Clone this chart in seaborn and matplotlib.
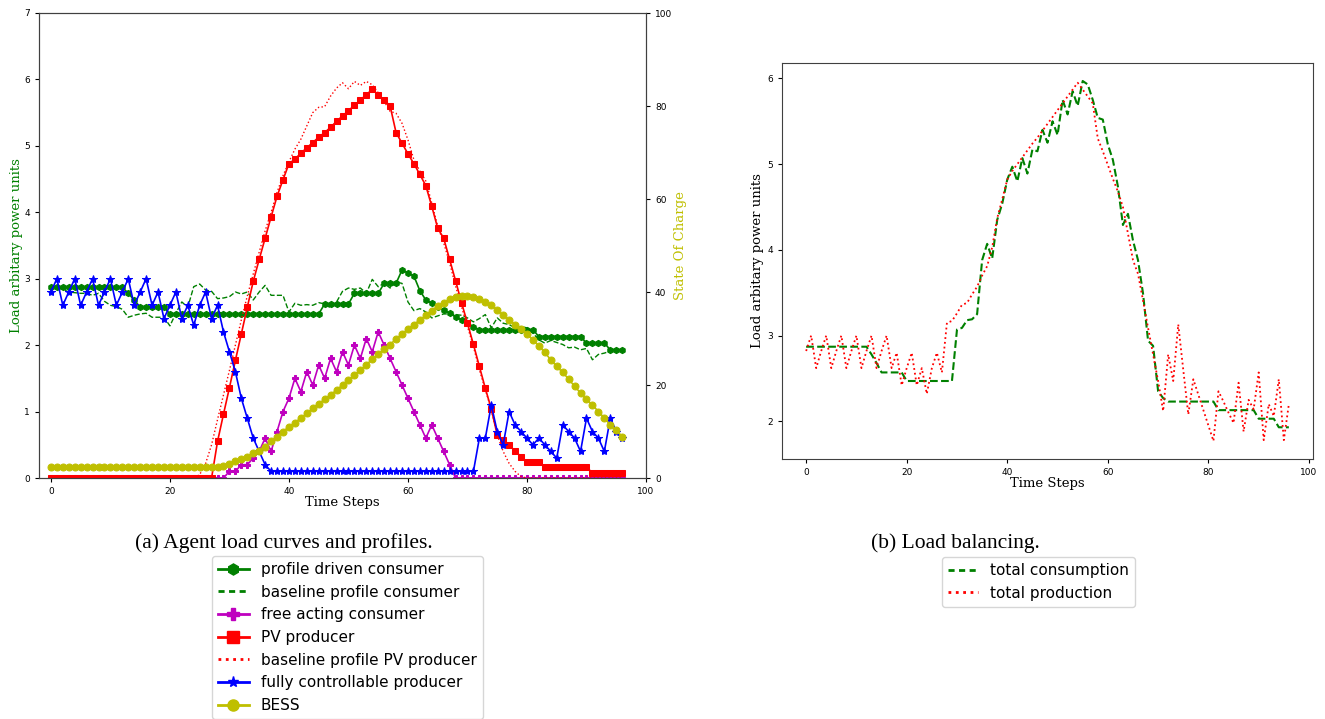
import matplotlib
matplotlib.use("Agg")
import matplotlib.pyplot as plt
from matplotlib.lines import Line2D
import seaborn as sns

steps = list(range(97))

# (a) agent load curves, left axis in arbitrary power units
profile_driven = [
    2.87, 2.87, 2.87, 2.87, 2.87, 2.87, 2.87, 2.87, 2.87, 2.87,
    2.87, 2.87, 2.87, 2.78, 2.68, 2.57, 2.57, 2.57, 2.57, 2.57,
    2.47, 2.47, 2.47, 2.47, 2.47, 2.47, 2.47, 2.47, 2.47, 2.47,
    2.47, 2.47, 2.47, 2.47, 2.47, 2.47, 2.47, 2.47, 2.47, 2.47,
    2.47, 2.47, 2.47, 2.47, 2.47, 2.47, 2.62, 2.62, 2.62, 2.62,
    2.62, 2.78, 2.78, 2.78, 2.78, 2.78, 2.93, 2.93, 2.93, 3.13,
    3.09, 3.04, 2.82, 2.68, 2.63, 2.58, 2.53, 2.48, 2.43, 2.38,
    2.33, 2.28, 2.23, 2.23, 2.23, 2.23, 2.23, 2.23, 2.23, 2.23,
    2.23, 2.23, 2.13, 2.13, 2.13, 2.13, 2.13, 2.13, 2.13, 2.13,
    2.03, 2.03, 2.03, 2.03, 1.93, 1.93, 1.93]

baseline_consumer = [
    2.88, 2.87, 2.84, 2.80, 2.79, 2.78, 2.78, 2.75, 2.78, 2.66,
    2.60, 2.58, 2.54, 2.42, 2.45, 2.47, 2.48, 2.42, 2.42, 2.42,
    2.29, 2.48, 2.65, 2.57, 2.88, 2.92, 2.83, 2.81, 2.70, 2.71,
    2.73, 2.80, 2.77, 2.80, 2.68, 2.80, 2.90, 2.75, 2.75, 2.75,
    2.50, 2.63, 2.60, 2.61, 2.60, 2.64, 2.62, 2.56, 2.65, 2.81,
    2.86, 2.84, 2.86, 2.78, 2.99, 2.88, 2.93, 2.86, 2.95, 2.93,
    2.65, 2.52, 2.55, 2.50, 2.41, 2.44, 2.47, 2.47, 2.46, 2.45,
    2.41, 2.35, 2.40, 2.46, 2.26, 2.41, 2.33, 2.31, 2.26, 2.28,
    2.26, 2.18, 2.08, 2.03, 2.07, 2.04, 2.01, 1.96, 1.97, 1.93,
    1.95, 1.78, 1.86, 1.88, 1.91, 1.92, 1.93]

free_acting = [
    0, 0, 0, 0, 0, 0, 0, 0, 0, 0,
    0, 0, 0, 0, 0, 0, 0, 0, 0, 0,
    0, 0, 0, 0, 0, 0, 0, 0, 0, 0,
    0.1, 0.1, 0.2, 0.2, 0.3, 0.4, 0.6, 0.4, 0.7, 1.0,
    1.2, 1.5, 1.3, 1.6, 1.4, 1.7, 1.5, 1.8, 1.6, 1.9,
    1.7, 2.0, 1.8, 2.1, 1.9, 2.2, 2.0, 1.8, 1.6, 1.4,
    1.2, 1.0, 0.8, 0.6, 0.8, 0.6, 0.4, 0.2, 0, 0,
    0, 0, 0, 0, 0, 0, 0, 0, 0, 0,
    0, 0, 0, 0, 0, 0, 0, 0, 0, 0,
    0, 0, 0, 0, 0, 0, 0]

pv_producer = [
    0, 0, 0, 0, 0, 0, 0, 0, 0, 0,
    0, 0, 0, 0, 0, 0, 0, 0, 0, 0,
    0, 0, 0, 0, 0, 0, 0, 0, 0.55, 0.96,
    1.36, 1.77, 2.17, 2.57, 2.96, 3.29, 3.61, 3.93, 4.24, 4.49,
    4.73, 4.80, 4.89, 4.97, 5.05, 5.13, 5.20, 5.28, 5.37, 5.45,
    5.53, 5.61, 5.69, 5.77, 5.85, 5.77, 5.69, 5.60, 5.20, 5.04,
    4.88, 4.73, 4.57, 4.40, 4.09, 3.76, 3.61, 3.29, 2.97, 2.64,
    2.33, 2.01, 1.68, 1.35, 1.04, 0.65, 0.57, 0.49, 0.41, 0.32,
    0.24, 0.24, 0.24, 0.16, 0.16, 0.16, 0.16, 0.16, 0.16, 0.16,
    0.16, 0.08, 0.08, 0.08, 0.08, 0.08, 0.08]

baseline_pv = [
    0, 0, 0, 0, 0, 0, 0, 0, 0, 0,
    0, 0, 0, 0, 0, 0, 0, 0, 0, 0,
    0, 0, 0, 0, 0, 0.05, 0.22, 0.50, 0.88, 1.25,
    1.62, 2.00, 2.38, 2.74, 3.07, 3.40, 3.72, 4.00, 4.30, 4.55,
    4.76, 4.95, 5.10, 5.30, 5.50, 5.58, 5.59, 5.75, 5.87, 5.95,
    5.86, 5.97, 5.91, 5.97, 5.92, 5.80, 5.67, 5.52, 5.49, 5.34,
    5.09, 4.79, 4.62, 4.47, 4.14, 3.79, 3.54, 3.24, 2.89, 2.58,
    2.28, 1.98, 1.63, 1.33, 1.03, 0.65, 0.40, 0.22, 0.10, 0.02,
    0, 0, 0, 0, 0, 0, 0, 0, 0, 0,
    0, 0, 0, 0, 0, 0, 0]

fully_controllable = [
    2.8, 3.0, 2.6, 2.8, 3.0, 2.6, 2.8, 3.0, 2.6, 2.8,
    3.0, 2.6, 2.8, 3.0, 2.6, 2.8, 3.0, 2.6, 2.8, 2.4,
    2.6, 2.8, 2.4, 2.6, 2.3, 2.6, 2.8, 2.4, 2.6, 2.2,
    1.9, 1.6, 1.2, 0.9, 0.6, 0.4, 0.2, 0.1, 0.1, 0.1,
    0.1, 0.1, 0.1, 0.1, 0.1, 0.1, 0.1, 0.1, 0.1, 0.1,
    0.1, 0.1, 0.1, 0.1, 0.1, 0.1, 0.1, 0.1, 0.1, 0.1,
    0.1, 0.1, 0.1, 0.1, 0.1, 0.1, 0.1, 0.1, 0.1, 0.1,
    0.1, 0.1, 0.6, 0.6, 1.1, 0.7, 0.5, 1.0, 0.8, 0.7,
    0.6, 0.5, 0.6, 0.5, 0.4, 0.3, 0.8, 0.7, 0.6, 0.4,
    0.9, 0.7, 0.6, 0.4, 0.9, 0.7, 0.6]

# state of charge on the right axis (percent)
bess_soc = [
    2.4, 2.4, 2.4, 2.4, 2.4, 2.4, 2.4, 2.4, 2.4, 2.4,
    2.4, 2.4, 2.4, 2.4, 2.4, 2.4, 2.4, 2.4, 2.4, 2.4,
    2.4, 2.4, 2.4, 2.4, 2.4, 2.4, 2.4, 2.4, 2.4, 2.6,
    3.1, 3.6, 4.0, 4.6, 5.3, 5.9, 6.7, 7.9, 8.9, 10.0,
    11.0, 11.9, 12.9, 13.9, 15.0, 16.0, 16.9, 17.9, 18.9, 20.0,
    21.0, 22.1, 23.2, 24.4, 25.5, 26.6, 27.7, 28.7, 29.9, 31.0,
    32.0, 33.0, 34.0, 35.0, 36.0, 37.0, 37.7, 38.4, 38.9, 39.1,
    39.1, 39.0, 38.5, 37.9, 37.1, 36.1, 35.0, 34.0, 33.0, 32.0,
    31.0, 29.7, 28.4, 27.0, 25.4, 24.0, 22.7, 21.3, 19.7, 18.3,
    16.9, 15.7, 14.3, 12.9, 11.4, 10.3, 8.9]

# (b) load balancing
total_consumption = [
    2.87, 2.87, 2.87, 2.87, 2.87, 2.87, 2.87, 2.87, 2.87, 2.87,
    2.87, 2.87, 2.87, 2.78, 2.68, 2.57, 2.57, 2.57, 2.57, 2.57,
    2.47, 2.47, 2.47, 2.47, 2.47, 2.47, 2.47, 2.47, 2.47, 2.47,
    3.07, 3.09, 3.18, 3.19, 3.25, 3.88, 4.07, 3.90, 4.35, 4.54,
    4.82, 4.97, 4.80, 5.07, 4.89, 5.17, 5.15, 5.40, 5.25, 5.50,
    5.34, 5.75, 5.58, 5.85, 5.68, 5.97, 5.93, 5.75, 5.54, 5.52,
    5.23, 5.05, 4.74, 4.29, 4.42, 4.11, 3.88, 3.49, 2.94, 2.88,
    2.35, 2.27, 2.23, 2.23, 2.23, 2.23, 2.23, 2.23, 2.23, 2.23,
    2.23, 2.23, 2.13, 2.13, 2.13, 2.13, 2.13, 2.13, 2.13, 2.13,
    2.03, 2.03, 2.03, 2.03, 1.93, 1.93, 1.93]

total_production = [
    2.82, 3.00, 2.62, 2.82, 3.00, 2.62, 2.82, 3.00, 2.62, 2.82,
    3.00, 2.62, 2.82, 3.00, 2.62, 2.82, 3.00, 2.62, 2.80, 2.42,
    2.62, 2.80, 2.42, 2.62, 2.32, 2.62, 2.80, 2.57, 3.15, 3.17,
    3.26, 3.36, 3.38, 3.48, 3.57, 3.70, 3.81, 4.03, 4.37, 4.59,
    4.82, 4.92, 5.00, 5.08, 5.16, 5.24, 5.31, 5.39, 5.47, 5.55,
    5.63, 5.71, 5.79, 5.87, 5.95, 5.87, 5.79, 5.71, 5.30, 5.15,
    4.99, 4.83, 4.68, 4.50, 4.19, 3.88, 3.72, 3.41, 3.09, 2.78,
    2.47, 2.12, 2.78, 2.47, 3.13, 2.60, 2.08, 2.49, 2.31, 2.13,
    1.95, 1.77, 2.35, 2.23, 2.10, 1.98, 2.45, 1.88, 2.25, 2.14,
    2.57, 1.78, 2.20, 2.06, 2.49, 1.78, 2.20]

labels_a = ['profile driven consumer', 'baseline profile consumer',
            'free acting consumer', 'PV producer',
            'baseline profile PV producer', 'fully controllable producer',
            'BESS']
labels_b = ['total consumption', 'total production']

plt.rcParams['font.family'] = ['DejaVu Sans']
plt.rcParams['axes.edgecolor'] = '0.25'

W, H = 1325, 719
fig = plt.figure(figsize=(W / 100, H / 100), dpi=100)

ax = fig.add_axes([39 / W, 1 - 478 / H, 607 / W, 465 / H])
ax2 = ax.twinx()
axr = fig.add_axes([782 / W, 1 - 459 / H, 531 / W, 396 / H])

lw = 1.2
sns.lineplot(x=steps, y=profile_driven, ax=ax, color='g', marker='h',
             markersize=4.5, markeredgecolor='g', linewidth=lw)
sns.lineplot(x=steps, y=baseline_consumer, ax=ax, color='g',
             linestyle='--', linewidth=1.0)
sns.lineplot(x=steps, y=free_acting, ax=ax, color='m', marker='P',
             markersize=5, markeredgecolor='m', linewidth=lw)
sns.lineplot(x=steps, y=pv_producer, ax=ax, color='r', marker='s',
             markersize=4.5, markeredgecolor='r', linewidth=lw)
sns.lineplot(x=steps, y=baseline_pv, ax=ax, color='r', linestyle=':',
             linewidth=1.0)
sns.lineplot(x=steps, y=fully_controllable, ax=ax, color='b', marker='*',
             markersize=6, markeredgecolor='b', linewidth=lw)
sns.lineplot(x=steps, y=bess_soc, ax=ax2, color='y', marker='o',
             markersize=5, markeredgecolor='y', linewidth=lw)

ax.set_xlim(-2, 100)
ax.set_ylim(0, 7)
ax2.set_ylim(0, 100)
ax.set_xticks(range(0, 101, 20))
ax.set_xlabel('Time Steps', family='serif', fontsize=9.5, labelpad=0)
ax.set_ylabel('Load arbitary power units', family='serif', fontsize=9.5,
              color='g', labelpad=1)
ax2.set_ylabel('State Of Charge', family='serif', fontsize=9.5, color='y',
               labelpad=1)
for a in (ax, ax2, axr):
    a.tick_params(labelsize=6.5, length=3, width=0.8)

sns.lineplot(x=steps, y=total_consumption, ax=axr, color='g',
             linestyle='--', linewidth=1.5)
sns.lineplot(x=steps, y=total_production, ax=axr, color='r',
             linestyle=':', linewidth=1.3)
axr.set_xticks(range(0, 101, 20))
axr.set_yticks([2, 3, 4, 5, 6])
axr.set_xlabel('Time Steps', family='serif', fontsize=9.5, labelpad=0)
axr.set_ylabel('Load arbitary power units', family='serif', fontsize=9.5,
               labelpad=2)

cap = dict(ha='center', va='center', family='Liberation Serif',
           fontsize=15.5)
fig.text(284 / W, 1 - 543 / H, '(a) Agent load curves and profiles.', **cap)
fig.text(955 / W, 1 - 543 / H, '(b) Load balancing.', **cap)

styles_a = [dict(color='g', marker='h'),
            dict(color='g', linestyle='--', dashes=(2.2, 1.6)),
            dict(color='m', marker='P'), dict(color='r', marker='s'),
            dict(color='r', linestyle=':'), dict(color='b', marker='*'),
            dict(color='y', marker='o')]
handles_a = [Line2D([], [], linewidth=2, markersize=8, label=lab, **st)
             for lab, st in zip(labels_a, styles_a)]
fig.legend(handles=handles_a, loc='upper center',
           bbox_to_anchor=(347.5 / W, 1 - 556 / H), fontsize=11,
           borderaxespad=0)

handles_b = [Line2D([], [], color='g', linestyle='--', dashes=(2.2, 1.6),
                    linewidth=2, label=labels_b[0]),
             Line2D([], [], color='r', linestyle=':', linewidth=2,
                    label=labels_b[1])]
fig.legend(handles=handles_b, loc='upper center',
           bbox_to_anchor=(1038.5 / W, 1 - 557 / H), fontsize=11,
           borderaxespad=0)

fig.savefig('out.png', dpi=100)
